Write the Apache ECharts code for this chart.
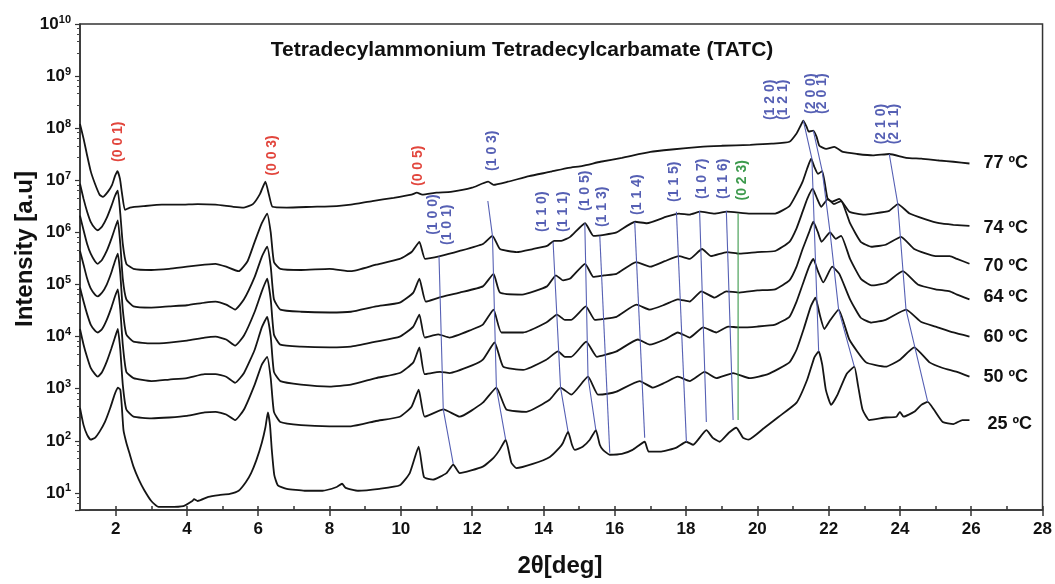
<!DOCTYPE html>
<html><head><meta charset="utf-8">
<script src="https://cdn.jsdelivr.net/npm/echarts@6/dist/echarts.min.js"></script>
<style>html,body{margin:0;padding:0;background:#fff}#c{width:1055px;height:584px}</style>
</head><body><div id="c"></div>
<script>
// ---- series (2θ in deg, intensity in a.u.) ----
const seriesNames = ['77 ºC','74 ºC','70 ºC','64 ºC','60 ºC','50 ºC','25 ºC'];
const c77 = [[1.0,1.2e8],[1.1,6.3e7],[1.2,3.0e7],[1.3,1.5e7],[1.42,8.6e6],[1.55,5.3e6],[1.64,4.8e6],[1.78,6.0e6],[1.9,8.2e6],[1.98,1.2e7],[2.05,1.5e7],[2.12,1.07e7],[2.18,5.5e6],[2.26,2.7e6],[2.4,3.0e6],[2.8,3.2e6],[3.3,3.4e6],[3.8,3.4e6],[4.3,3.5e6],[4.8,3.4e6],[5.3,3.1e6],[5.6,3.0e6],[5.85,3.5e6],[6.05,5.5e6],[6.2,9.4e6],[6.3,5.3e6],[6.4,3.1e6],[6.8,3.0e6],[7.5,3.1e6],[8.2,3.2e6],[8.6,3.4e6],[9.2,4.0e6],[9.8,4.6e6],[10.3,5.3e6],[10.45,5.8e6],[10.6,5.3e6],[11.0,5.8e6],[11.4,6.0e6],[12.0,7.2e6],[12.45,9.4e6],[12.6,8.2e6],[13.0,9.4e6],[13.6,1.2e7],[14.2,1.46e7],[14.7,1.74e7],[15.1,1.9e7],[15.6,2.27e7],[16.2,2.7e7],[17.0,3.5e7],[17.6,3.9e7],[18.4,4.4e7],[19.0,4.6e7],[19.8,4.8e7],[20.4,5.05e7],[20.9,5.5e7],[21.1,7.9e7],[21.2,1.07e8],[21.29,1.4e8],[21.38,1.07e8],[21.44,8.6e7],[21.57,9.0e7],[21.66,6.9e7],[21.74,4.6e7],[21.93,4.0e7],[22.16,4.4e7],[22.4,3.5e7],[22.8,3.2e7],[23.24,3.0e7],[23.7,3.2e7],[24.17,2.7e7],[24.6,2.6e7],[25.1,2.4e7],[25.5,2.27e7],[25.95,2.1e7]];
const c74 = [[1.0,8.6e6],[1.1,4.4e6],[1.2,2.5e6],[1.3,1.6e6],[1.42,1.2e6],[1.5,1.1e6],[1.62,1.3e6],[1.75,1.9e6],[1.88,3.2e6],[1.98,5.0e6],[2.06,6.3e6],[2.13,2.3e6],[2.2,6.0e5],[2.3,2.5e5],[2.5,2.0e5],[3.0,1.9e5],[3.5,2.0e5],[4.0,2.2e5],[4.5,2.4e5],[4.8,2.5e5],[5.1,2.2e5],[5.45,1.8e5],[5.7,2.8e5],[5.9,6.6e5],[6.1,1.5e6],[6.25,2.3e6],[6.35,1.0e6],[6.44,2.7e5],[6.62,2.0e5],[7.2,1.9e5],[8.0,2.0e5],[8.6,1.8e5],[9.3,2.4e5],[9.97,3.1e5],[10.3,4.2e5],[10.52,6.6e5],[10.68,3.1e5],[11.1,3.5e5],[11.65,4.4e5],[12.3,6.0e5],[12.57,8.6e5],[12.78,4.8e5],[13.25,4.2e5],[13.7,4.8e5],[14.1,5.5e5],[14.3,6.9e5],[14.5,6.9e5],[14.75,8.2e5],[15.17,1.5e6],[15.4,8.6e5],[15.7,9.0e5],[16.05,1.0e6],[16.57,1.6e6],[16.9,1.5e6],[17.45,2.0e6],[17.8,2.3e6],[18.1,2.2e6],[18.4,2.5e6],[18.8,2.3e6],[19.15,2.5e6],[19.8,2.3e6],[20.5,2.3e6],[20.9,3.2e6],[21.1,5.5e6],[21.27,9.4e6],[21.4,1.7e7],[21.51,2.6e7],[21.6,1.8e7],[21.7,1.33e7],[21.82,1.5e7],[21.97,4.4e6],[22.1,3.9e6],[22.3,4.4e6],[22.58,2.5e6],[23.0,2.2e6],[23.24,2.3e6],[23.7,2.6e6],[23.94,3.5e6],[24.27,2.3e6],[24.7,1.8e6],[25.1,1.5e6],[25.5,1.4e6],[25.95,1.33e6]];
const c70 = [[1.0,2.1e6],[1.1,1.1e6],[1.2,6.0e5],[1.3,3.9e5],[1.42,2.8e5],[1.5,2.5e5],[1.62,3.0e5],[1.75,4.4e5],[1.88,7.5e5],[1.98,1.2e6],[2.06,1.7e6],[2.13,6.0e5],[2.2,1.3e5],[2.3,5.2e4],[2.5,3.8e4],[3.0,3.6e4],[3.5,3.8e4],[4.0,4.0e4],[4.5,4.5e4],[4.8,4.7e4],[5.1,4.1e4],[5.35,3.3e4],[5.6,5.2e4],[5.9,1.4e5],[6.1,3.4e5],[6.25,5.3e5],[6.35,2.2e5],[6.44,5.2e4],[6.62,3.3e4],[7.2,3.0e4],[8.0,2.9e4],[8.6,3.0e4],[9.3,3.8e4],[9.97,4.5e4],[10.35,7.0e4],[10.52,1.3e5],[10.7,4.7e4],[11.07,5.6e4],[11.65,7.0e4],[12.3,9.2e4],[12.6,1.6e5],[12.78,7.0e4],[13.4,6.4e4],[14.1,9.2e4],[14.35,1.5e5],[14.55,1.2e5],[14.75,1.3e5],[15.17,2.5e5],[15.4,1.4e5],[15.7,1.5e5],[16.05,1.6e5],[16.6,2.7e5],[17.0,2.2e5],[17.4,2.8e5],[17.8,3.5e5],[18.1,3.1e5],[18.45,4.8e5],[18.7,3.5e5],[19.15,4.2e5],[19.5,3.9e5],[20.0,4.2e5],[20.5,4.4e5],[20.9,6.6e5],[21.1,1.2e6],[21.27,2.5e6],[21.4,4.4e6],[21.55,6.9e6],[21.68,4.4e6],[21.79,3.1e6],[21.98,4.4e6],[22.15,3.5e6],[22.35,4.0e6],[22.6,1.5e6],[22.9,6.6e5],[23.2,5.3e5],[23.6,5.8e5],[24.03,8.2e5],[24.4,4.8e5],[25.0,3.5e5],[25.4,3.5e5],[25.6,3.1e5],[25.95,2.5e5]];
const c64 = [[1.0,4.4e5],[1.1,2.4e5],[1.2,1.3e5],[1.3,8.4e4],[1.42,6.4e4],[1.5,5.9e4],[1.62,7.0e4],[1.75,1.0e5],[1.88,1.7e5],[1.98,2.8e5],[2.06,3.9e5],[2.13,1.6e5],[2.2,3.3e4],[2.3,1.1e4],[2.5,8.0e3],[3.0,7.4e3],[3.5,7.7e3],[4.0,8.4e3],[4.5,9.6e3],[4.8,1.0e4],[5.1,8.8e3],[5.35,6.7e3],[5.6,1.05e4],[5.9,3.0e4],[6.1,7.4e4],[6.25,1.3e5],[6.35,5.2e4],[6.44,1.1e4],[6.62,7.0e3],[7.2,6.4e3],[8.0,6.2e3],[8.6,6.4e3],[9.3,8.0e3],[9.97,1.0e4],[10.35,1.56e4],[10.52,2.65e4],[10.67,9.6e3],[11.05,1.1e4],[11.37,9.6e3],[12.0,1.37e4],[12.3,1.7e4],[12.6,3.3e4],[12.82,1.2e4],[13.43,1.2e4],[14.08,1.86e4],[14.38,2.65e4],[14.6,2.1e4],[14.78,2.1e4],[15.19,3.8e4],[15.44,2.1e4],[15.7,2.2e4],[16.05,2.4e4],[16.61,4.1e4],[16.98,3.3e4],[17.4,4.1e4],[17.77,5.2e4],[18.1,4.7e4],[18.43,7.4e4],[18.8,5.6e4],[19.13,7.4e4],[19.5,7.0e4],[20.0,7.7e4],[20.5,8.1e4],[20.9,1.2e5],[21.1,2.2e5],[21.27,4.8e5],[21.45,1.0e6],[21.57,1.6e6],[21.7,1.0e6],[21.8,6.6e5],[22.04,1.0e6],[22.2,7.5e5],[22.35,8.6e5],[22.6,3.1e5],[22.9,1.3e5],[23.2,9.6e4],[23.6,1.07e5],[24.08,1.8e5],[24.5,1.0e5],[25.0,8.1e4],[25.4,7.4e4],[25.6,6.4e4],[25.95,5.2e4]];
const c60 = [[1.0,8.8e4],[1.1,4.7e4],[1.2,2.7e4],[1.3,1.7e4],[1.42,1.3e4],[1.5,1.2e4],[1.62,1.4e4],[1.75,2.1e4],[1.88,3.6e4],[1.98,5.9e4],[2.06,8.1e4],[2.13,3.3e4],[2.2,7.0e3],[2.3,2.1e3],[2.5,1.6e3],[3.0,1.4e3],[3.5,1.5e3],[4.0,1.6e3],[4.5,1.9e3],[4.8,1.9e3],[5.1,1.7e3],[5.35,1.3e3],[5.6,2.0e3],[5.9,5.6e3],[6.1,1.5e4],[6.25,2.4e4],[6.35,1.0e4],[6.44,2.1e3],[6.62,1.4e3],[7.2,1.2e3],[8.0,1.1e3],[8.6,1.2e3],[9.3,1.6e3],[9.97,2.0e3],[10.35,3.2e3],[10.52,6.2e3],[10.67,1.9e3],[11.1,2.1e3],[11.37,2.0e3],[12.0,2.8e3],[12.3,3.6e3],[12.63,7.7e3],[12.87,2.65e3],[13.43,2.3e3],[14.08,3.6e3],[14.41,5.2e3],[14.6,4.1e3],[14.78,4.1e3],[15.2,8.0e3],[15.5,4.1e3],[15.75,4.5e3],[16.05,5.2e3],[16.65,8.8e3],[16.98,7.0e3],[17.4,8.8e3],[17.77,1.2e4],[18.1,9.6e3],[18.48,1.5e4],[18.85,1.2e4],[19.18,1.56e4],[19.5,1.5e4],[20.0,1.56e4],[20.5,1.7e4],[20.9,2.4e4],[21.1,4.7e4],[21.27,1.0e5],[21.45,2.2e5],[21.57,3.1e5],[21.7,1.8e5],[21.85,1.1e5],[22.1,2.2e5],[22.3,1.6e5],[22.6,5.2e4],[22.9,2.3e4],[23.2,1.86e4],[23.6,2.1e4],[24.17,3.3e4],[24.6,1.9e4],[25.0,1.56e4],[25.5,1.2e4],[25.95,1.0e4]];
const c50 = [[1.0,1.4e4],[1.1,7.0e3],[1.2,4.0e3],[1.3,2.5e3],[1.42,1.9e3],[1.5,1.7e3],[1.62,2.1e3],[1.75,3.3e3],[1.88,5.9e3],[1.98,9.6e3],[2.06,1.4e4],[2.13,5.6e3],[2.2,1.2e3],[2.3,4.0e2],[2.5,2.9e2],[3.0,2.7e2],[3.5,2.8e2],[4.0,3.0e2],[4.5,3.5e2],[4.8,3.6e2],[5.1,3.2e2],[5.35,2.5e2],[5.6,4.0e2],[5.9,1.2e3],[6.1,2.9e3],[6.25,4.1e3],[6.35,1.6e3],[6.44,3.6e2],[6.62,2.3e2],[7.2,2.0e2],[8.0,1.9e2],[8.6,1.9e2],[9.3,2.4e2],[9.97,2.9e2],[10.3,4.5e2],[10.5,9.6e2],[10.67,2.9e2],[11.2,4.0e2],[11.65,2.9e2],[12.3,5.4e2],[12.68,1.05e3],[12.96,4.0e2],[13.52,3.6e2],[14.18,6.2e2],[14.48,1.05e3],[14.78,7.7e2],[15.25,1.7e3],[15.53,7.7e2],[15.8,8.0e2],[16.05,8.8e2],[16.7,1.4e3],[17.07,1.05e3],[17.4,1.3e3],[17.77,1.7e3],[18.1,1.4e3],[18.52,2.1e3],[18.85,1.6e3],[19.32,2.0e3],[19.78,1.6e3],[20.3,1.9e3],[20.9,3.2e3],[21.1,5.6e3],[21.3,1.4e4],[21.5,3.8e4],[21.63,5.6e4],[21.75,2.65e4],[21.88,1.4e4],[22.05,2.1e4],[22.28,3.3e4],[22.58,8.8e3],[23.05,3.2e3],[23.6,2.65e3],[24.0,3.6e3],[24.4,6.2e3],[24.83,3.2e3],[25.2,2.5e3],[25.6,2.1e3],[25.95,1.7e3]];
const c25 = [[1.0,430],[1.1,200],[1.2,130],[1.3,105],[1.42,114],[1.55,150],[1.7,230],[1.85,430],[1.97,770],[2.06,1050],[2.13,960],[2.17,490],[2.22,160],[2.3,92],[2.4,54],[2.5,32],[2.65,18],[2.8,11.4],[3.0,7.0],[3.2,5.4],[3.5,5.4],[3.9,5.6],[4.15,7.0],[4.2,7.6],[4.3,7.0],[4.6,8.4],[4.9,9.1],[5.2,9.6],[5.45,11],[5.65,16],[5.8,24],[5.95,43],[6.1,92],[6.2,180],[6.27,350],[6.33,200],[6.38,67],[6.45,22],[6.55,14],[6.8,12],[7.3,11],[7.8,11],[8.2,13],[8.35,15],[8.45,12.5],[8.8,11],[9.4,12],[9.97,14],[10.25,24],[10.5,77],[10.65,20],[10.9,18],[11.28,24],[11.47,35],[11.65,24],[12.3,32],[12.6,47],[12.77,67],[12.94,105],[13.1,38],[13.24,30],[13.7,36],[14.18,49],[14.45,74],[14.55,92],[14.69,150],[14.8,84],[14.88,67],[15.1,77],[15.3,105],[15.47,160],[15.58,84],[15.67,67],[15.86,54],[16.2,56],[16.5,67],[16.84,96],[16.95,62],[17.3,62],[17.73,74],[18.01,96],[18.2,84],[18.57,160],[18.75,114],[18.94,96],[19.2,143],[19.41,178],[19.6,114],[19.75,105],[20.2,178],[20.6,290],[21.1,540],[21.4,1500],[21.6,4000],[21.72,5200],[21.82,2900],[21.92,960],[22.07,490],[22.25,770],[22.5,1900],[22.72,2650],[22.82,1200],[22.95,400],[23.14,250],[23.6,280],[23.9,290],[24.0,360],[24.1,290],[24.4,360],[24.6,490],[24.78,560],[24.95,400],[25.2,230],[25.5,210],[25.75,250],[25.95,250]];

// ---- peak-tracking guide lines ----
const guideLines = [
  [[11.07,3.5e5],[11.19,4.0e2],[11.47,36]],
  [[12.44,4.0e6],[12.57,8.6e5],[12.68,1.05e3],[12.94,105]],
  [[14.27,6.6e5],[14.48,1.05e3],[14.69,150]],
  [[15.16,1.5e6],[15.25,1.7e3],[15.47,160]],
  [[15.58,8.6e5],[15.86,59]],
  [[16.56,1.6e6],[16.84,114]],
  [[17.73,2.5e6],[18.01,96]],
  [[18.38,2.6e6],[18.57,230]],
  [[19.13,2.6e6],[19.32,250]],
  [[21.29,1.4e8],[21.53,2.6e7],[21.72,5200]],
  [[21.57,9.0e7],[21.82,1.5e7],[22.04,1.0e6],[22.28,3.3e4],[22.72,2650]],
  [[23.7,3.2e7],[23.94,3.5e6],[24.17,3.3e4],[24.78,560]]
];
const greenLine = [[19.46,2.3e6],[19.46,250]];

// ---- reflection labels ----
const hklText  = ['(0 0 1)','(0 0 3)','(0 0 5)','(1 0 3)','(1 0 0)','(1 0 1)','(1 1 0)','(1 1 1)','(1 0 5)','(1 1 3)','(1 1 4)','(1 1 5)','(1 0 7)','(1 1 6)','(0 2 3)','(1 2 0)','(1 2 1)','(2 0 0)','(2 0 1)','(2 1 0)','(2 1 1)'];
const hklPos2t = [2.07,6.38,10.48,12.55,10.90,11.29,13.95,14.54,15.16,15.66,16.62,17.68,18.44,19.03,19.56,20.37,20.71,21.52,21.83,23.48,23.85];
const hklPosI  = [5.5e7,3.0e7,1.9e7,3.7e7,2.2e6,1.4e6,2.5e6,2.5e6,6.3e6,3.1e6,5.3e6,9.4e6,1.07e7,1.07e7,1.0e7,3.5e8,3.5e8,4.6e8,4.6e8,1.2e8,1.2e8];
const hklGroup = ['r','r','r','b','b','b','b','b','b','b','b','b','b','b','g','b','b','b','b','b','b'];

const xMajor = [2,4,6,8,10,12,14,16,18,20,22,24,26,28];
const xMinor = [3,5,7,9,11,13,15,17,19,21,23,25,27];

const FONT = '"Liberation Sans", Arial, Helvetica, sans-serif';
const colors = {r:'#e2463d', b:'#5660b4', g:'#3c9a4c'};
const curves = [c77,c74,c70,c64,c60,c50,c25];
const labelOffsets = [[0,0],[0,2],[0,2],[0,-2],[0,0],[0,0],[4,4]];

const chart = echarts.init(document.getElementById('c'), null, {renderer:'canvas'});
const series = curves.map((d,i)=>({
  name: seriesNames[i], type:'line', data:d, showSymbol:false, smooth:0.15,
  lineStyle:{color:'#151515', width:1.8}, itemStyle:{color:'#151515'},
  endLabel:{show:true, formatter:'{a}', distance:14, offset:labelOffsets[i],
    color:'#111', fontSize:18, fontWeight:'bold', fontFamily:FONT},
  silent:true, z:3
}));
guideLines.forEach(d=>series.push({type:'line', data:d, showSymbol:false, silent:true,
  lineStyle:{color:colors.b, width:1.1}, z:4}));
series.push({type:'line', data:greenLine, showSymbol:false, silent:true,
  lineStyle:{color:colors.g, width:1.1}, z:4});

chart.setOption({
  animation:false,
  backgroundColor:'#fff',
  grid:{left:80, right:12, top:24, bottom:74, show:true, borderColor:'#333', borderWidth:1.5},
  xAxis:[{
    type:'value', min:1, max:28, position:'bottom',
    axisLine:{show:true, onZero:false, lineStyle:{color:'#333', width:1.5}},
    axisTick:{show:true, customValues:xMajor, length:6, lineStyle:{color:'#333', width:1.5}},
    axisLabel:{customValues:xMajor, color:'#111', fontSize:17, fontWeight:'bold', fontFamily:FONT, margin:11},
    splitLine:{show:false}
  },{
    type:'value', min:1, max:28, position:'bottom',
    axisLine:{show:false}, axisLabel:{show:false}, splitLine:{show:false},
    axisTick:{show:true, inside:true, customValues:xMajor.concat(xMinor), length:4, lineStyle:{color:'#333', width:1.5}}
  }],
  yAxis:{
    type:'log', logBase:10, min:4.7, max:1e10, splitNumber:10,
    axisLine:{show:true, lineStyle:{color:'#333', width:1.5}},
    axisTick:{show:true, length:5, lineStyle:{color:'#333', width:1.2}},
    minorTick:{show:true, splitNumber:5, length:3, lineStyle:{color:'#444', width:1}},
    splitLine:{show:false},
    axisLabel:{
      margin:9, color:'#111',
      formatter:function(v){
        const e = Math.log10(v); const r = Math.round(e);
        if (Math.abs(e-r) > 1e-6) return '';
        return '{n|10}{s|' + r + '}';
      },
      rich:{
        n:{fontSize:17, fontWeight:'bold', fontFamily:FONT, color:'#111', lineHeight:20},
        s:{fontSize:11, fontWeight:'bold', fontFamily:FONT, color:'#111', verticalAlign:'top', lineHeight:12}
      }
    }
  },
  series: series
});

const gfx = [
  {type:'text', x:522, y:50, style:{text:'Tetradecylammonium Tetradecylcarbamate (TATC)', align:'center', verticalAlign:'middle', fill:'#111', font:'bold 21px ' + FONT}},
  {type:'text', x:25, y:249, rotation:Math.PI/2, style:{text:'Intensity [a.u]', align:'center', verticalAlign:'middle', fill:'#111', font:'bold 24px ' + FONT}},
  {type:'text', x:560, y:566, style:{text:'2θ[deg]', align:'center', verticalAlign:'middle', fill:'#111', font:'bold 24px ' + FONT}}
];
hklText.forEach((t,i)=>{
  const p = chart.convertToPixel({xAxisIndex:0, yAxisIndex:0}, [hklPos2t[i], hklPosI[i]]);
  gfx.push({type:'text', x:p[0], y:p[1], rotation:Math.PI/2, z:10,
    style:{text:t, align:'center', verticalAlign:'middle', fill:colors[hklGroup[i]], font:'bold 14px ' + FONT}});
});
chart.setOption({graphic:gfx});
</script>
</body></html>
